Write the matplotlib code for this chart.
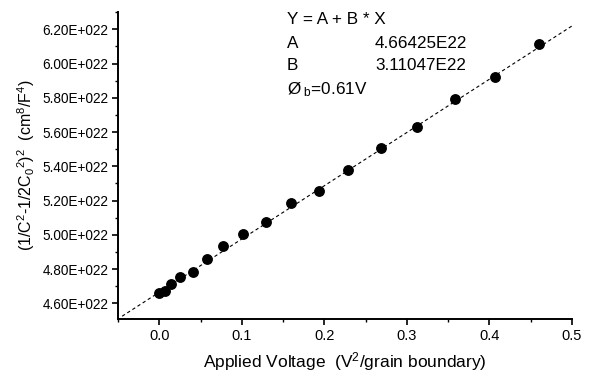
import matplotlib
matplotlib.use("Agg")
import matplotlib.pyplot as plt
from matplotlib.ticker import MultipleLocator, FuncFormatter

plt.rcParams['font.family'] = ['Liberation Sans', 'DejaVu Sans']
plt.rcParams['mathtext.fontset'] = 'custom'
plt.rcParams['mathtext.rm'] = 'Liberation Sans'
plt.rcParams['mathtext.it'] = 'Liberation Sans'
plt.rcParams['mathtext.bf'] = 'Liberation Sans:bold'

# Data (y in units of 1E22)
x_vals = [0.0, 0.0064, 0.0141, 0.0254, 0.0403, 0.0577, 0.0778, 0.102, 0.129,
          0.159, 0.193, 0.229, 0.269, 0.312, 0.358, 0.407, 0.460]
y_vals = [4.658, 4.674, 4.715, 4.756, 4.784, 4.857, 4.934, 5.006, 5.076,
          5.185, 5.253, 5.381, 5.508, 5.628, 5.790, 5.922, 6.116]
A = 4.66425
B = 3.11047
fit_x = [-0.045, 0.5]
fit_y = [A + B * v for v in fit_x]

fig = plt.figure(figsize=(5.95, 3.76), dpi=100)
ax = fig.add_axes([0.1983, 0.1516, 0.7630, 0.8165])

ax.plot(fit_x, fit_y, color='black', lw=0.8, ls=(0, (3, 2.5)))
ax.plot(x_vals, y_vals, 'o', color='black', ms=6.8, mec='black')

ax.set_xlim(-0.05, 0.5)
ax.set_ylim(4.508, 6.301)

for s in ['top', 'right']:
    ax.spines[s].set_visible(False)
for s in ['left', 'bottom']:
    ax.spines[s].set_linewidth(1.4)

ax.xaxis.set_major_locator(MultipleLocator(0.1))
ax.xaxis.set_minor_locator(MultipleLocator(0.05))
ax.yaxis.set_major_locator(MultipleLocator(0.2))
ax.yaxis.set_minor_locator(MultipleLocator(0.1))
ax.xaxis.set_major_formatter(FuncFormatter(lambda v, p: f"{v:.1f}"))
ax.yaxis.set_major_formatter(FuncFormatter(lambda v, p: f"{v:.2f}E+022"))

ax.tick_params(which='major', length=4, width=1.2, direction='out', color='black')
ax.tick_params(which='minor', length=2.2, width=1.0, direction='out', color='black')
ax.tick_params(axis='y', labelsize=9.8, pad=3)
ax.tick_params(axis='x', labelsize=10.5, pad=3)

ax.set_xlabel("Applied Voltage  (V$^2$/grain boundary)", fontsize=12.5, labelpad=5)
ax.set_ylabel("(1/C$^2$-1/2C$_0$$^2$)$^2$  (cm$^8$/F$^4$)", fontsize=11.5, labelpad=4)

W, H = 595, 376
def ft(px, py, s):
    fig.text(px / W, 1 - py / H, s, fontsize=12.3, va='center', ha='left')

ft(287, 19, "Y = A + B * X")
ft(287, 43, "A")
ft(375, 43, "4.66425E22")
ft(287, 66, "B")
ft(375, 66, "3.11047E22")
ft(287, 90, "Ø$_{\\ \\mathrm{b}}$=0.61V")

fig.savefig("out.png", dpi=100)
